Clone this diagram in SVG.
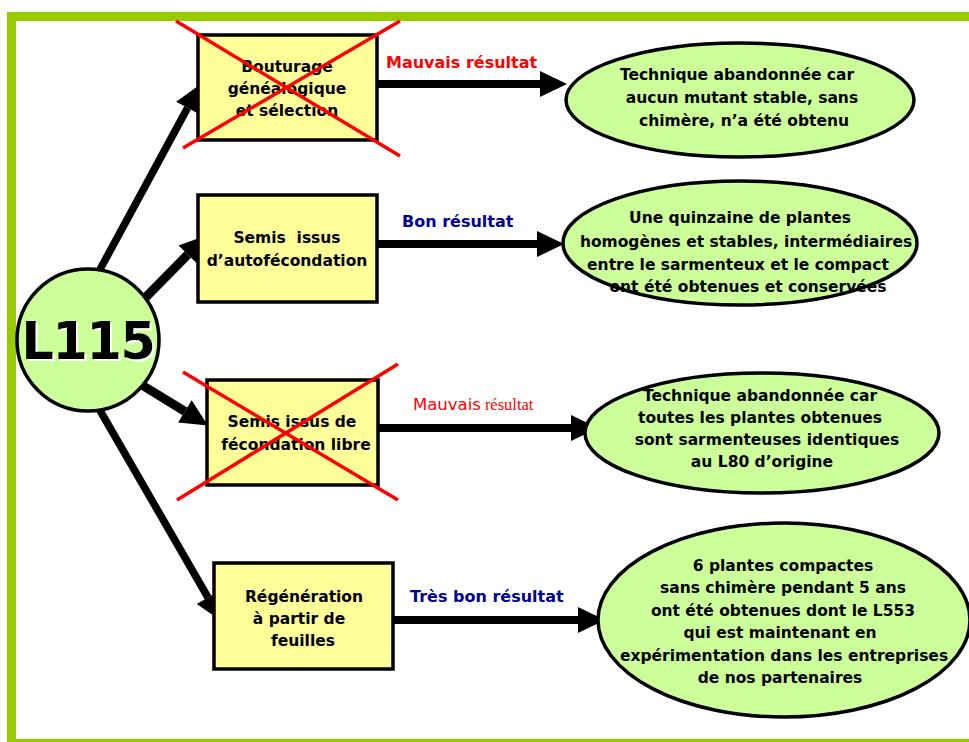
<svg xmlns="http://www.w3.org/2000/svg" width="969" height="742" viewBox="0 0 969 742">
<defs>
<marker id="ah" markerUnits="userSpaceOnUse" markerWidth="27" markerHeight="26" refX="0" refY="13" orient="auto" overflow="visible">
<path d="M0,0 L27,13 L0,26 Z" fill="#000"/>
</marker>
<filter id="wsh" x="-10%" y="-10%" width="130%" height="130%">
<feFlood flood-color="#fff" result="w"/>
<feComposite in="w" in2="SourceAlpha" operator="in" result="ws"/>
<feOffset in="ws" dx="2" dy="2" result="off"/>
<feMerge><feMergeNode in="off"/><feMergeNode in="SourceGraphic"/></feMerge>
</filter>
<style>
.box{fill:#ffff99;stroke:#000;stroke-width:3.5}
.ell{fill:#ccff99;stroke:#000;stroke-width:3.5}
.t{font-family:"DejaVu Sans","Liberation Sans",sans-serif;font-weight:bold;font-size:15.5px;fill:#000;text-anchor:middle}
.lbl{font-family:"DejaVu Sans","Liberation Sans",sans-serif;font-weight:bold;font-size:16px}
.x{stroke:#ff0000;stroke-width:3.5;fill:none}
.c{stroke:#000;fill:none}
</style>
</defs>
<rect x="0" y="0" width="969" height="742" fill="#fff"/>
<rect x="11.5" y="16.5" width="975" height="727" fill="none" stroke="#99cc00" stroke-width="9"/>

<g id="connectors">
<line class="c" x1="97" y1="275" x2="187.6" y2="107.9" stroke-width="7.5" marker-end="url(#ah)"/>
<line class="c" x1="146" y1="297" x2="187.8" y2="254.5" stroke-width="9" marker-end="url(#ah)"/>
<line class="c" x1="137" y1="382" x2="184.9" y2="411.4" stroke-width="9" marker-end="url(#ah)"/>
<line class="c" x1="98" y1="407" x2="208" y2="597.5" stroke-width="7.5" marker-end="url(#ah)"/>
<line class="c" x1="377" y1="84" x2="540" y2="84" stroke-width="8" marker-end="url(#ah)"/>
<line class="c" x1="377" y1="244" x2="537" y2="244" stroke-width="8" marker-end="url(#ah)"/>
<line class="c" x1="376" y1="428" x2="571" y2="428" stroke-width="8" marker-end="url(#ah)"/>
<line class="c" x1="393" y1="620" x2="578" y2="620" stroke-width="8" marker-end="url(#ah)"/>
</g>

<g id="labels">
<text class="lbl" x="386" y="68" fill="#ff0000">Mauvais résultat</text>
<text class="lbl" x="402" y="227" fill="#000099">Bon résultat</text>
<text x="413" y="410" fill="#ff0000" font-size="16.5"><tspan font-family="DejaVu Sans, sans-serif">Mauvais</tspan><tspan font-family="Liberation Serif, serif" dx="4">résultat</tspan></text>
<text class="lbl" x="410" y="602" fill="#000099">Très bon résultat</text>
</g>

<g id="L115">
<circle cx="88" cy="340" r="71" fill="#ccff99" stroke="#000" stroke-width="3.5"/>
<text x="88" y="359" font-family="DejaVu Sans, sans-serif" font-weight="bold" font-size="51" fill="#000" text-anchor="middle" letter-spacing="-1.5" filter="url(#wsh)">L115</text>
</g>

<g id="box1">
<rect class="box" x="198" y="35" width="179" height="105"/>
<text class="t" x="287" y="72">Bouturage</text>
<text class="t" x="287" y="94">généalogique</text>
<text class="t" x="287" y="116">et sélection</text>
<line class="x" x1="176" y1="21" x2="400" y2="156"/>
<line class="x" x1="183" y1="148" x2="400" y2="21"/>
</g>

<g id="box2">
<rect class="box" x="198" y="195" width="179" height="107"/>
<text class="t" x="287" y="243" xml:space="preserve">Semis  issus</text>
<text class="t" x="287" y="266">d’autofécondation</text>
</g>

<g id="box3">
<rect class="box" x="207" y="380" width="171" height="105"/>
<text class="t" x="292" y="427">Semis issus de</text>
<text class="t" x="296" y="450">fécondation libre</text>
<line class="x" x1="183" y1="372" x2="398" y2="500"/>
<line class="x" x1="177" y1="500" x2="398" y2="364"/>
</g>

<g id="box4">
<rect class="box" x="214" y="563" width="179" height="106"/>
<text class="t" x="304" y="602">Régénération</text>
<text class="t" x="299" y="624">à partir de</text>
<text class="t" x="303" y="646">feuilles</text>
</g>

<g id="ell1">
<ellipse class="ell" cx="740" cy="100" rx="174" ry="57"/>
<text class="t" x="737" y="80">Technique abandonnée car</text>
<text class="t" x="742" y="103">aucun mutant stable, sans</text>
<text class="t" x="744" y="126">chimère, n’a été obtenu</text>
</g>

<g id="ell2">
<ellipse class="ell" cx="740" cy="243" rx="177" ry="62"/>
<text class="t" x="740" y="223">Une quinzaine de plantes</text>
<text class="t" x="746" y="247">homogènes et stables, intermédiaires</text>
<text class="t" x="738" y="270">entre le sarmenteux et le compact</text>
<text class="t" x="748" y="292">ont été obtenues et conservées</text>
</g>

<g id="ell3">
<ellipse class="ell" cx="762" cy="433" rx="177" ry="60"/>
<text class="t" x="760" y="401">Technique abandonnée car</text>
<text class="t" x="760" y="423">toutes les plantes obtenues</text>
<text class="t" x="767" y="445">sont sarmenteuses identiques</text>
<text class="t" x="762" y="467">au L80 d’origine</text>
</g>

<g id="ell4">
<ellipse class="ell" cx="784" cy="620" rx="186" ry="97"/>
<text class="t" x="783" y="571">6 plantes compactes</text>
<text class="t" x="783" y="593">sans chimère pendant 5 ans</text>
<text class="t" x="783" y="616">ont été obtenues dont le L553</text>
<text class="t" x="780" y="638">qui est maintenant en</text>
<text class="t" x="784" y="661">expérimentation dans les entreprises</text>
<text class="t" x="780" y="683">de nos partenaires</text>
</g>
</svg>
